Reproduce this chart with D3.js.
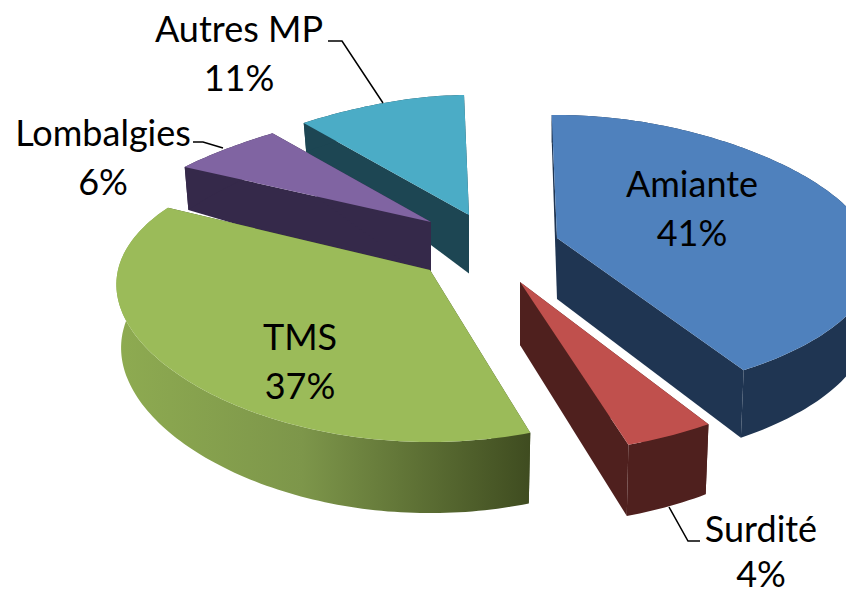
<!DOCTYPE html>
<html><head><meta charset="utf-8">
<script src="https://cdn.jsdelivr.net/npm/d3@7"></script>
<style>html,body{margin:0;background:#fff}svg{display:block}text{font-family:Lato,"Open Sans",sans-serif;fill:#000}</style>
</head><body><svg id="c" width="846" height="594"></svg>
<script>
const categories=["Amiante","Surdité","TMS","Lombalgies","Autres MP"];
const values=[41,4,37,6,11];
const labels=["41%","4%","37%","6%","11%"];
const topColors=["#4F81BD","#C0504D","#9BBB59","#8064A2","#4BACC6"];
const sideColors=["#1F3552","#4F201E","#3F4C20","#35294A","#1D4653"];
const apexX=[557,520,430,431,469];
const apexY=[238,282,270,222,215];
const nearStretch=[1.136,1.15,1.06,1,1];
const farStretch=[.75,.75,.845,.65,.7];
const nearDrop=[159,172,172,140,140];
const farRise=[123,120,125,115,120];
const drawOrder=[4,3,0,2,1];
const labelX=[692,761,300,103,239];
const labelY=[197,542,350,146,42];
const labelGap=[49,45,49,49,49];
const leaders=[null,[[669,507],[688,541],[700,541]],null,[[193,142],[203,142],[223,148]],[[328,41],[342,41],[383,103]]];

const svg=d3.select("#c");
const defs=svg.append("defs");
const grad=defs.append("linearGradient").attr("id","tmsWall").attr("gradientUnits","userSpaceOnUse").attr("x1",116).attr("x2",530).attr("y1",0).attr("y2",0);
grad.append("stop").attr("offset",0).attr("stop-color","#8EAB51");
grad.append("stop").attr("offset",.45).attr("stop-color","#7D964A");
grad.append("stop").attr("offset",1).attr("stop-color","#3F4C20");

const rot=-1.3*Math.PI/180;
const pie=d3.pie().sort(null).value(d=>d).startAngle(rot).endAngle(2*Math.PI+rot);
const arcs=pie(values);
const R=312;
const depth=d3.scaleLinear().domain([100,120,220,440]).range([26,28,60,71]);
function proj(i,a,r,low){
  const u=Math.sin(a)*r,v=Math.cos(a)*r;
  const b=(farStretch[i]-nearStretch[i])/2,c=(farStretch[i]+nearStretch[i])/2-1;
  const A=(farRise[i]+nearDrop[i])/2,C=(nearDrop[i]-farRise[i])/2;
  const x=apexX[i]+R*u*(1+b*v+c*v*v);
  const y=apexY[i]-A*v+C*v*v;
  if(!low) return [x,y];
  return [apexX[i]+(x-apexX[i])*.985,y+depth(y)];
}
const line=d3.line();
function edge(i,a0,a1,low){
  const n=Math.max(2,Math.ceil(Math.abs(a1-a0)/.02));
  return d3.range(n+1).map(k=>proj(i,a0+(a1-a0)*k/n,1,low));
}
drawOrder.forEach(i=>{
  const d=arcs[i],a0=d.startAngle,a1=d.endAngle;
  const g=svg.append("g").attr("class","slice");
  const apexT=proj(i,0,0,false),apexB=proj(i,0,0,true);
  const wall=(a)=>[apexT,proj(i,a,1,false),proj(i,a,1,true),apexB];
  g.append("path").attr("d",line(wall(a0))+"Z").attr("fill",sideColors[i]);
  g.append("path").attr("d",line(wall(a1))+"Z").attr("fill",sideColors[i]);
  const outer=edge(i,a0,a1,false).concat(edge(i,a1,a0,true));
  g.append("path").attr("d",line(outer)+"Z").attr("fill",i===2?"url(#tmsWall)":sideColors[i]);
  g.append("path").attr("d",line([apexT,...edge(i,a0,a1,false)])+"Z").attr("fill",topColors[i]);
});
const tg=svg.append("g").style("font-size","36px").attr("text-anchor","middle");
categories.forEach((c,i)=>{
  tg.append("text").attr("x",labelX[i]).attr("y",labelY[i]).text(c);
  tg.append("text").attr("x",labelX[i]).attr("y",labelY[i]+labelGap[i]).text(labels[i]);
  if(leaders[i]) svg.append("path").attr("d",line(leaders[i])).attr("fill","none").attr("stroke","#000").attr("stroke-width",1.5);
});
</script></body></html>
